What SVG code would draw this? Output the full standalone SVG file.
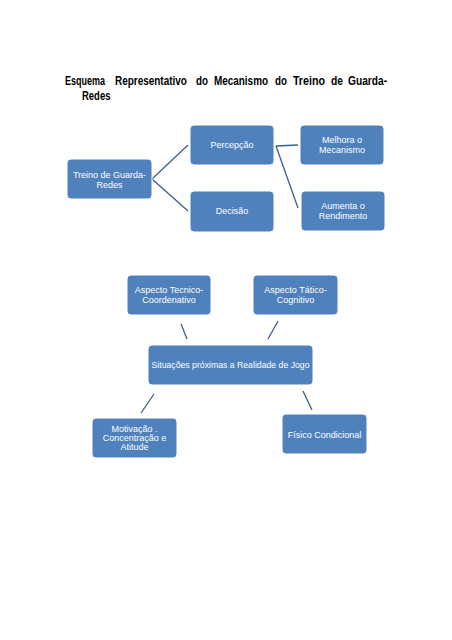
<svg xmlns="http://www.w3.org/2000/svg" width="452" height="640" viewBox="0 0 452 640">
<style>
.title{font-family:"Liberation Sans",Arial,sans-serif;font-weight:bold;font-size:13px;fill:#000}
.box{fill:#4F81BD;stroke:#FFFFFF;stroke-width:1}
.lbl{font-family:"Liberation Sans",Arial,sans-serif;font-size:9px;fill:#FFFFFF;text-anchor:middle}
.con{stroke:#3D5F8C;stroke-width:1.3;fill:none}
</style>
<rect width="452" height="640" fill="#FFFFFF"/>
<g id="title" transform="scale(0.78 1)">
<text class="title" x="83.3" y="85" textLength="51.3" lengthAdjust="spacingAndGlyphs">Esquema</text>
<text class="title" x="147.4" y="85" textLength="92.3" lengthAdjust="spacingAndGlyphs">Representativo</text>
<text class="title" x="251.3" y="85" textLength="15.4" lengthAdjust="spacingAndGlyphs">do</text>
<text class="title" x="274.4" y="85" textLength="69.2" lengthAdjust="spacingAndGlyphs">Mecanismo</text>
<text class="title" x="352.6" y="85" textLength="15.4" lengthAdjust="spacingAndGlyphs">do</text>
<text class="title" x="375.6" y="85" textLength="41" lengthAdjust="spacingAndGlyphs">Treino</text>
<text class="title" x="424.4" y="85" textLength="15.4" lengthAdjust="spacingAndGlyphs">de</text>
<text class="title" x="446.2" y="85" textLength="50" lengthAdjust="spacingAndGlyphs">Guarda-</text>
<text class="title" x="105.1" y="100" textLength="36.5" lengthAdjust="spacingAndGlyphs">Redes</text>
</g>
<g id="connectors">
<line class="con" x1="152" y1="179" x2="188" y2="145"/>
<line class="con" x1="152" y1="179" x2="188" y2="211"/>
<line class="con" x1="276" y1="146" x2="298" y2="145"/>
<line class="con" x1="276" y1="146" x2="298" y2="208"/>
<line class="con" x1="181" y1="324" x2="187" y2="339"/>
<line class="con" x1="278" y1="321" x2="268" y2="339"/>
<line class="con" x1="154" y1="394" x2="141" y2="413"/>
<line class="con" x1="303" y1="391" x2="312" y2="410"/>
</g>
<g id="treino">
<rect class="box" x="67" y="159" width="85" height="40" rx="4"/>
<text class="lbl" x="109.5" y="178">Treino de Guarda-</text>
<text class="lbl" x="109.5" y="188">Redes</text>
</g>
<g id="percepcao">
<rect class="box" x="190" y="125" width="84" height="40" rx="4"/>
<text class="lbl" x="232" y="148">Percepção</text>
</g>
<g id="decisao">
<rect class="box" x="190" y="191" width="84" height="41" rx="4"/>
<text class="lbl" x="232" y="214">Decisão</text>
</g>
<g id="melhora">
<rect class="box" x="300" y="125" width="84" height="40" rx="4"/>
<text class="lbl" x="342" y="143">Melhora o</text>
<text class="lbl" x="342" y="153">Mecanismo</text>
</g>
<g id="aumenta">
<rect class="box" x="301" y="191" width="84" height="40" rx="4"/>
<text class="lbl" x="343" y="209">Aumenta o</text>
<text class="lbl" x="343" y="219">Rendimento</text>
</g>
<g id="tecnico">
<rect class="box" x="127" y="275" width="84" height="40" rx="4"/>
<text class="lbl" x="169" y="293">Aspecto Tecnico-</text>
<text class="lbl" x="169" y="303">Coordenativo</text>
</g>
<g id="tatico">
<rect class="box" x="253" y="275" width="85" height="40" rx="4"/>
<text class="lbl" x="295.5" y="293">Aspecto Tático-</text>
<text class="lbl" x="295.5" y="303">Cognitivo</text>
</g>
<g id="situacoes">
<rect class="box" x="148" y="345" width="165" height="40" rx="4"/>
<text class="lbl" x="230.5" y="368" textLength="158" lengthAdjust="spacingAndGlyphs">Situações próximas a Realidade de Jogo</text>
</g>
<g id="motivacao">
<rect class="box" x="92" y="418" width="85" height="40" rx="4"/>
<text class="lbl" x="134.5" y="432">Motivação .</text>
<text class="lbl" x="134.5" y="441">Concentração e</text>
<text class="lbl" x="134.5" y="450">Atitude</text>
</g>
<g id="fisico">
<rect class="box" x="282" y="414" width="85" height="40" rx="4"/>
<text class="lbl" x="324.5" y="438">Físico Condicional</text>
</g>
</svg>
